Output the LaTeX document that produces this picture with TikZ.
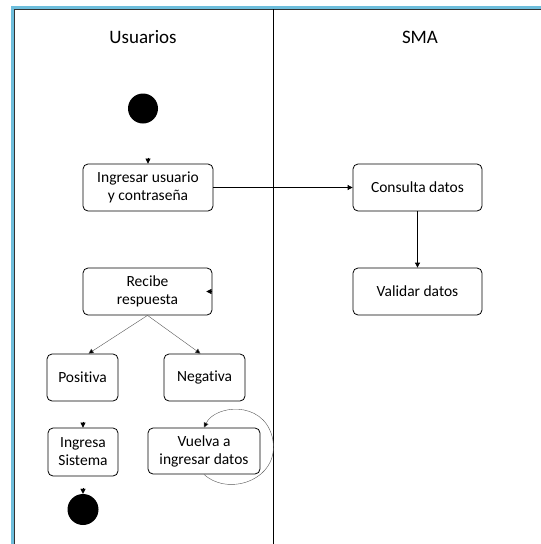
\documentclass[tikz,border=0pt]{standalone}
\usepackage{fontspec}
\setmainfont{Carlito}[RawFeature={-liga}]
\usetikzlibrary{arrows.meta}
\definecolor{framecol}{RGB}{110,190,220}
\begin{document}
\begin{tikzpicture}[x=1pt,y=-1pt,
  act/.style={draw, thick, rounded corners=5pt, align=center, font=\fontsize{15.5}{18}\selectfont, inner sep=0pt},
  dot/.style={circle, fill=black, minimum size=30pt, inner sep=0pt},
  arr/.style={-{Triangle[width=5pt,length=5pt]}},
  stub/.style={line width=0.3pt, -{Triangle[width=5pt,length=5pt]}},
  thinarr/.style={gray!70!black, line width=0.4pt, -{Triangle[width=5pt,length=5pt,fill=black]}},
  title/.style={font=\fontsize{19}{22}\selectfont}]
\useasboundingbox (0,0) rectangle (541,544);
\fill[white] (0,0) rectangle (541,544);
% frame
\draw[framecol, line width=3pt] (12.5,544) -- (12.5,7.5) -- (541,7.5);
\draw[black!80, line width=0.8pt] (14.2,544) -- (14.2,9.2) -- (541,9.2);
\draw[black, line width=0.8pt] (273.5,9) -- (273.5,544);
% titles
\node[title] (tu) at (143,37) {Usuarios};
\node[title] (ts) at (420,37) {SMA};
% nodes
\node[dot] (start) at (143,108.5) {};
\node[act, minimum width=130pt, minimum height=47pt] (ing) at (148,187.5) {Ingresar usuario\\y contraseña};
\node[act, minimum width=129pt, minimum height=47pt] (con) at (417.5,187.5) {Consulta datos};
\node[act, minimum width=129pt, minimum height=47pt] (val) at (417.5,291.5) {Validar datos};
\node[act, minimum width=129pt, minimum height=47pt] (rec) at (147.5,291.5) {Recibe\\respuesta};
\node[act, minimum width=71pt, minimum height=47pt] (pos) at (82.5,377.5) {Positiva};
\node[act, minimum width=81pt, minimum height=47pt] (neg) at (204.5,377.5) {Negativa};
\node[act, minimum width=70pt, minimum height=48pt] (isis) at (83,452) {Ingresa\\Sistema};
\node[act, minimum width=112pt, minimum height=46pt] (vue) at (204,451) {Vuelva a\\ingresar datos};
\node[dot, minimum size=31pt] (fin) at (83,509.5) {};
% stub arrow tips
\coordinate (c1) at ([yshift=6pt]ing.north);
\coordinate (c2) at ([xshift=-6pt]rec.east);
\coordinate (c3) at ([yshift=6pt]isis.north);
\coordinate (c4) at ([yshift=6pt]fin.north);
\draw[stub] (c1) -- (ing.north);
\draw[stub] (rec.east) -- (c2);
\draw[stub] (c3) -- (isis.north);
\draw[stub] (c4) -- (fin.north);
% connectors
\draw[arr, line width=0.8pt] (ing.east) -- (con.west);
\draw[arr, line width=0.8pt] (con.south) -- (val.north);
\draw[thinarr] (rec.south) -- ([xshift=6pt]pos.north);
\draw[thinarr] (rec.south) -- ([xshift=-4pt]neg.north);
\draw[thinarr] (vue.south) .. controls (230,498) and (283,478) .. (272,436)
  .. controls (262,400) and (215,405) .. (vue.north);
\end{tikzpicture}
\end{document}
